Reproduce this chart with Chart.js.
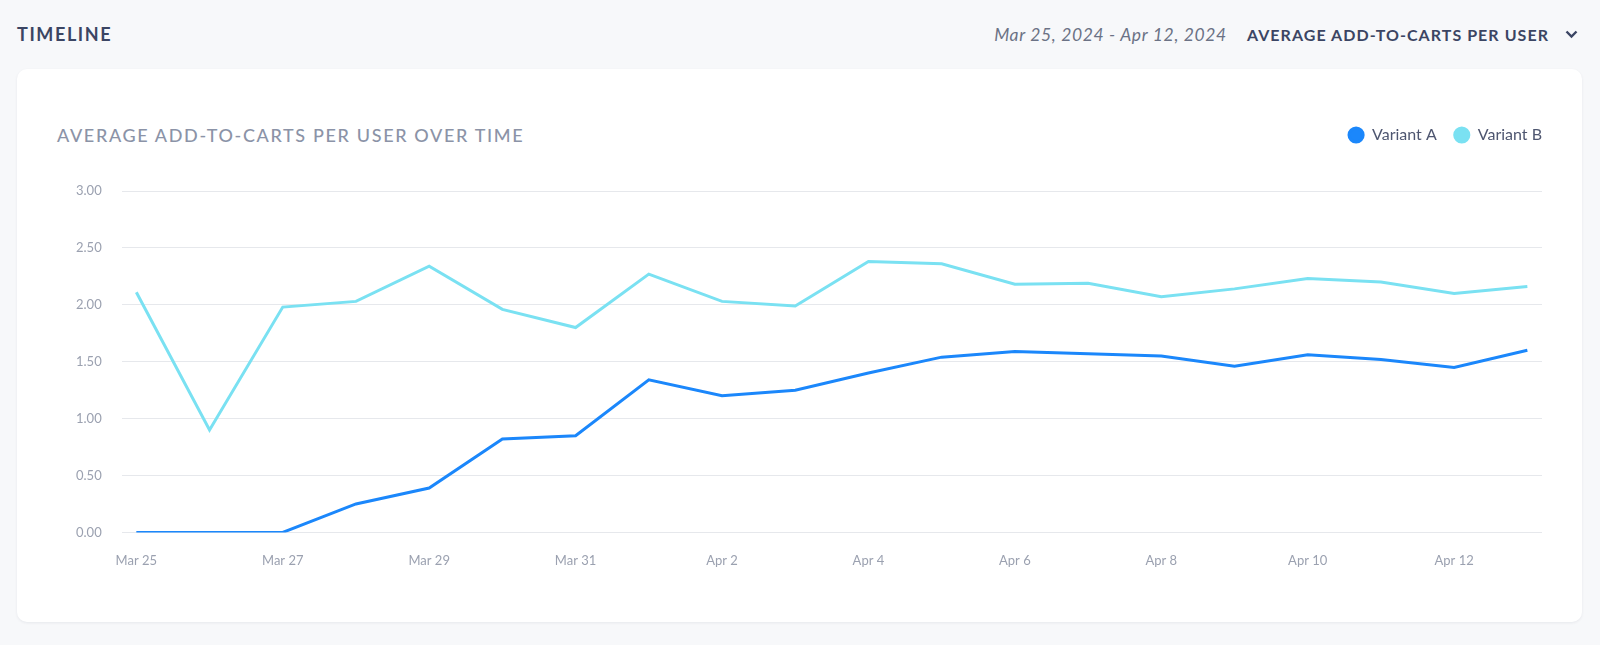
<!DOCTYPE html>
<html>
<head>
<meta charset="utf-8">
<script src="https://cdn.jsdelivr.net/npm/chart.js@4.4.1/dist/chart.umd.min.js"></script>
<style>
  html, body { margin: 0; padding: 0; }
  body {
    width: 1600px; height: 645px; background: #f7f8fa;
    font-family: Lato, "Open Sans", sans-serif; position: relative; overflow: hidden;
  }
  .page-title {
    position: absolute; left: 17px; top: 23px;
    font-size: 18px; font-weight: 700; letter-spacing: 1.6px; color: #3b4563;
  }
  .controls {
    position: absolute; right: 22px; top: 24px;
    display: flex; align-items: center;
  }
  .date-range { font-size: 17.5px; font-style: italic; letter-spacing: 0.65px; color: #6b7285; margin-right: 20px; }
  .metric { font-size: 16px; font-weight: 700; letter-spacing: 1.05px; color: #3b4563; margin-right: 16px; }
  .card {
    position: absolute; left: 17px; top: 69px; width: 1565px; height: 553px;
    background: #fff; border-radius: 10px;
    box-shadow: 0 1px 3px rgba(20, 30, 60, 0.07);
  }
  .chart-title {
    position: absolute; left: 40px; top: 55px;
    font-size: 18px; font-weight: 500; letter-spacing: 1.65px; color: #8b93a7;
  }
  canvas { position: absolute; left: 0; top: 0; }
</style>
</head>
<body>
<div class="page-title">TIMELINE</div>
<div class="controls">
  <span class="date-range">Mar 25, 2024 - Apr 12, 2024</span>
  <span class="metric">AVERAGE ADD-TO-CARTS PER USER</span>
  <svg width="13" height="9" viewBox="0 0 13 9"><polyline points="1.5,1.5 6.5,6.5 11.5,1.5" fill="none" stroke="#3b4563" stroke-width="2.4"/></svg>
</div>
<div class="card">
  <div class="chart-title">AVERAGE ADD-TO-CARTS PER USER OVER TIME</div>
  <canvas id="timelineChart" width="1565" height="553"></canvas>
</div>
<script>
// chart data
const days = ['Mar 25', 'Mar 26', 'Mar 27', 'Mar 28', 'Mar 29', 'Mar 30', 'Mar 31',
  'Apr 1', 'Apr 2', 'Apr 3', 'Apr 4', 'Apr 5', 'Apr 6', 'Apr 7', 'Apr 8', 'Apr 9',
  'Apr 10', 'Apr 11', 'Apr 12', 'Apr 13'];
const variantA = [0, 0, 0, 0.25, 0.39, 0.82, 0.85, 1.34, 1.20, 1.25, 1.40, 1.54,
  1.59, 1.57, 1.55, 1.46, 1.56, 1.52, 1.45, 1.60];
const variantB = [2.11, 0.90, 1.98, 2.03, 2.34, 1.96, 1.80, 2.27, 2.03, 1.99, 2.38, 2.36,
  2.18, 2.19, 2.07, 2.14, 2.23, 2.20, 2.10, 2.16];
const yTicks = [0, 0.5, 1, 1.5, 2, 2.5, 3];

const legendPad = 17;
const toPoints = arr => arr.map((v, i) => ({ x: i, y: v }));

// push chart area below the legend row, and let the legend reach the right edge
const legendGap = {
  id: 'legendGap',
  beforeInit(chart) {
    const fit = chart.legend.fit;
    chart.legend.fit = function () {
      fit.bind(chart.legend)();
      this.height += 38;
    };
  },
  afterLayout(chart) {
    chart.legend.left += legendPad;
    chart.legend.right += legendPad;
  }
};

const chart = new Chart(document.getElementById('timelineChart'), {
  type: 'line',
  data: {
    datasets: [{
      label: 'Variant A',
      data: toPoints(variantA),
      borderColor: '#1b87fb',
      backgroundColor: '#1b87fb',
      borderWidth: 3,
      pointRadius: 0,
      tension: 0
    }, {
      label: 'Variant B',
      data: toPoints(variantB),
      borderColor: '#7ae1f2',
      backgroundColor: '#7ae1f2',
      borderWidth: 3,
      pointRadius: 0,
      tension: 0
    }]
  },
  options: {
    responsive: false,
    animation: false,
    layout: { padding: { left: 39, right: 40, top: 41, bottom: 40 } },
    scales: {
      x: {
        type: 'linear',
        min: -0.2,
        max: days.length - 0.8,
        grid: { display: false },
        border: { display: false },
        afterBuildTicks: axis => {
          axis.ticks = days.map((d, i) => ({ value: i })).filter(t => t.value % 2 === 0);
        },
        ticks: {
          autoSkip: false,
          maxRotation: 0,
          padding: 13,
          color: '#9ba1b0',
          font: { family: 'Lato', size: 13 },
          callback: value => days[value]
        }
      },
      y: {
        min: 0,
        max: 3,
        afterBuildTicks: axis => {
          axis.ticks = yTicks.map(v => ({ value: v }));
        },
        grid: { color: '#e6e8ec', drawTicks: false },
        border: { display: false },
        ticks: {
          padding: 20,
          color: '#9ba1b0',
          font: { family: 'Lato', size: 13 },
          callback: value => value.toFixed(2)
        }
      }
    },
    plugins: {
      legend: {
        position: 'top',
        align: 'end',
        labels: {
          usePointStyle: true,
          pointStyle: 'circle',
          boxWidth: 16,
          boxHeight: 10,
          padding: legendPad,
          color: '#4e5670',
          font: { family: 'Lato', size: 16 }
        }
      },
      tooltip: { enabled: false }
    }
  },
  plugins: [legendGap]
});
</script>
</body>
</html>
